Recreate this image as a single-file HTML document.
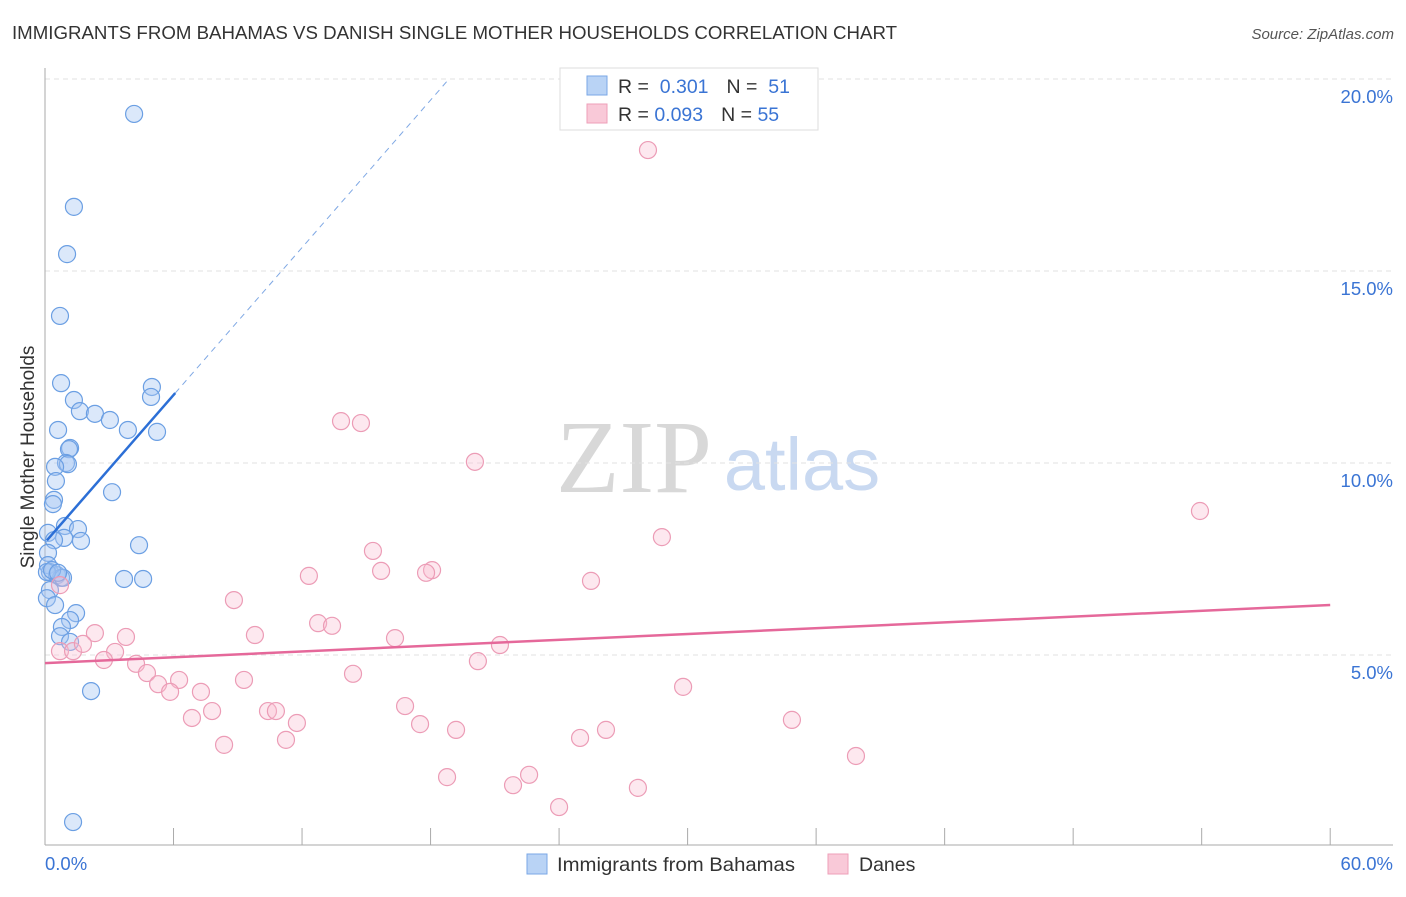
<!DOCTYPE html>
<html><head><meta charset="utf-8"><style>
body{margin:0;background:#fff;font-family:"Liberation Sans",sans-serif;}
svg text{font-family:"Liberation Sans",sans-serif;}
</style></head><body>
<svg id="c" width="1406" height="892">
<text x="12" y="39" font-size="18" fill="#333" textLength="885" lengthAdjust="spacingAndGlyphs">IMMIGRANTS FROM BAHAMAS VS DANISH SINGLE MOTHER HOUSEHOLDS CORRELATION CHART</text>
<text x="1394" y="39" font-size="15" fill="#555" font-style="italic" text-anchor="end">Source: ZipAtlas.com</text>
<text x="34" y="457" font-size="19" fill="#333" text-anchor="middle" transform="rotate(-90 34 457)">Single Mother Households</text>
<g>
<text x="634" y="492" font-size="104" fill="#d8d8d8" text-anchor="middle" style="font-family:'Liberation Serif',serif">ZIP</text>
<text x="802" y="490" font-size="74" fill="#c9d9f1" text-anchor="middle">atlas</text>
</g>
<g id="grid"></g><g id="axes"></g><g id="marks"></g>
<g>
<rect x="560" y="68" width="258" height="62" fill="#fff" stroke="#ddd"/>
<rect x="587" y="76" width="20" height="19" fill="#b9d3f5" stroke="#7aa7e6"/>
<rect x="587" y="104" width="20" height="19" fill="#f9c9d8" stroke="#ee9fb8"/>
<text x="618" y="93" font-size="19.5" fill="#333">R = <tspan fill="#3a74d4">&#160;0.301</tspan><tspan dx="18">N = </tspan><tspan fill="#3a74d4">&#160;51</tspan></text>
<text x="618" y="121" font-size="19.5" fill="#333">R = <tspan fill="#3a74d4">0.093</tspan><tspan dx="18">N = </tspan><tspan fill="#3a74d4">55</tspan></text>
</g>
<g>
<rect x="527" y="854" width="20" height="20" fill="#b9d3f5" stroke="#7aa7e6"/>
<text x="557" y="871" font-size="19.5" fill="#333" textLength="238" lengthAdjust="spacingAndGlyphs">Immigrants from Bahamas</text>
<rect x="828" y="854" width="20" height="20" fill="#f9c9d8" stroke="#ee9fb8"/>
<text x="859" y="871" font-size="19.5" fill="#333">Danes</text>
</g>
</svg>
<script>
const blueX=[4.16,1.35,1.03,0.70,0.75,4.99,4.95,1.35,1.63,2.33,3.03,0.61,3.87,5.23,1.17,1.12,0.98,1.07,0.47,0.51,0.42,0.37,3.13,0.93,1.54,0.14,0.89,1.68,0.42,4.39,0.14,0.14,0.23,0.56,0.75,0.84,3.69,4.58,0.23,0.09,0.47,1.45,1.17,0.79,0.70,1.17,2.15,1.31,0.09,0.33,0.61];
const blueY=[19.09,16.67,15.44,13.83,12.08,11.98,11.72,11.64,11.35,11.28,11.12,10.86,10.86,10.81,10.39,10.36,10.0,9.97,9.90,9.53,9.04,8.93,9.24,8.36,8.28,8.18,8.05,7.97,7.99,7.86,7.66,7.34,7.16,7.08,7.01,7.01,6.98,6.98,6.69,6.48,6.30,6.09,5.91,5.73,5.49,5.34,4.06,0.65,7.16,7.21,7.14];
const pinkX=[28.15,13.82,14.75,20.07,53.92,28.80,15.31,12.32,15.69,18.07,17.79,25.49,8.82,0.70,12.75,13.40,2.33,3.78,9.80,16.34,21.24,0.70,1.31,3.27,1.77,2.75,4.25,20.21,4.76,14.38,6.26,9.29,5.28,5.84,7.28,29.79,16.81,7.80,10.41,10.78,6.86,11.76,17.51,34.87,19.19,26.19,11.25,24.98,8.36,37.86,18.77,22.60,21.85,27.68,24.0];
const pinkY=[18.15,11.09,11.04,10.03,8.75,8.07,7.71,7.06,7.19,7.21,7.14,6.93,6.43,6.82,5.83,5.76,5.57,5.47,5.52,5.44,5.26,5.10,5.10,5.08,5.29,4.87,4.77,4.84,4.53,4.51,4.35,4.35,4.24,4.04,4.04,4.17,3.67,3.54,3.54,3.54,3.36,3.23,3.20,3.31,3.05,3.05,2.79,2.84,2.66,2.37,1.82,1.88,1.61,1.54,1.04];
const blueTrend=[7.93,0.64];   // intercept, slope
const pinkTrend=[4.79,0.0252];
const yTicks=[5,10,15,20];
const yTickLabels=["5.0%","10.0%","15.0%","20.0%"];
const xTicks=[0,6,12,18,24,30,36,42,48,54,60];
const xEndLabels=["0.0%","60.0%"];

const NS="http://www.w3.org/2000/svg";
const sx=v=>45+v*21.42, sy=v=>847-v*38.4;
function mk(tag,attrs,parent){const e=document.createElementNS(NS,tag);for(const k in attrs)e.setAttribute(k,attrs[k]);parent.appendChild(e);return e;}
const grid=document.getElementById('grid'),axes=document.getElementById('axes'),marks=document.getElementById('marks');
yTicks.forEach((t,i)=>{
  const l=mk('line',{x1:45,x2:1393,y1:sy(t),y2:sy(t),stroke:'#e2e2e2','stroke-dasharray':'5,4'},grid);
  
  
  const tx=mk('text',{x:1393,y:sy(t)+24,'font-size':18.5,fill:'#3a74d4','text-anchor':'end'},axes);
  tx.textContent=yTickLabels[i];
  
  
});
const ax=mk('line',{x1:45,x2:45,y1:68,y2:845,stroke:'#aaa'},axes);


const bx=mk('line',{x1:45,x2:1393,y1:845,y2:845,stroke:'#aaa'},axes);


xTicks.forEach(t=>{
  const l=mk('line',{x1:sx(t),x2:sx(t),y1:828,y2:845,stroke:'#aaa'},axes);
  
  
});
const xl0=mk('text',{x:45,y:870,'font-size':18.5,fill:'#3a74d4'},axes);xl0.textContent=xEndLabels[0];


const xl1=mk('text',{x:1393,y:870,'font-size':18.5,fill:'#3a74d4','text-anchor':'end'},axes);xl1.textContent=xEndLabels[1];



blueX.forEach((x,i)=>{
  const c=mk('circle',{cx:sx(x),cy:sy(blueY[i]),r:8.5,fill:'rgba(165,198,242,0.4)',stroke:'#6b9fe3','stroke-width':1.2},marks);
  
  
});
pinkX.forEach((x,i)=>{
  const c=mk('circle',{cx:sx(x),cy:sy(pinkY[i]),r:8.5,fill:'rgba(248,190,208,0.35)',stroke:'#ec9cb6','stroke-width':1.2},marks);
  
  
});
const bMin=Math.min(...blueX),bMax=Math.max(...blueX);
const bl=mk('line',{x1:sx(bMin),y1:sy(blueTrend[0]+blueTrend[1]*bMin),x2:sx(bMax+0.85),y2:sy(blueTrend[0]+blueTrend[1]*(bMax+0.85)),stroke:'#2c6fd6','stroke-width':2.5},marks);


const xEnd=(20.0-blueTrend[0])/blueTrend[1];
const bd=mk('line',{x1:sx(bMax+0.85),y1:sy(blueTrend[0]+blueTrend[1]*(bMax+0.85)),x2:sx(xEnd),y2:sy(20),stroke:'#7fa8e4','stroke-width':1,'stroke-dasharray':'6,5'},marks);


const pl=mk('line',{x1:sx(0),y1:sy(pinkTrend[0]),x2:sx(60),y2:sy(pinkTrend[0]+pinkTrend[1]*60),stroke:'#e5689a','stroke-width':2.5},marks);


</script>
</body></html>
